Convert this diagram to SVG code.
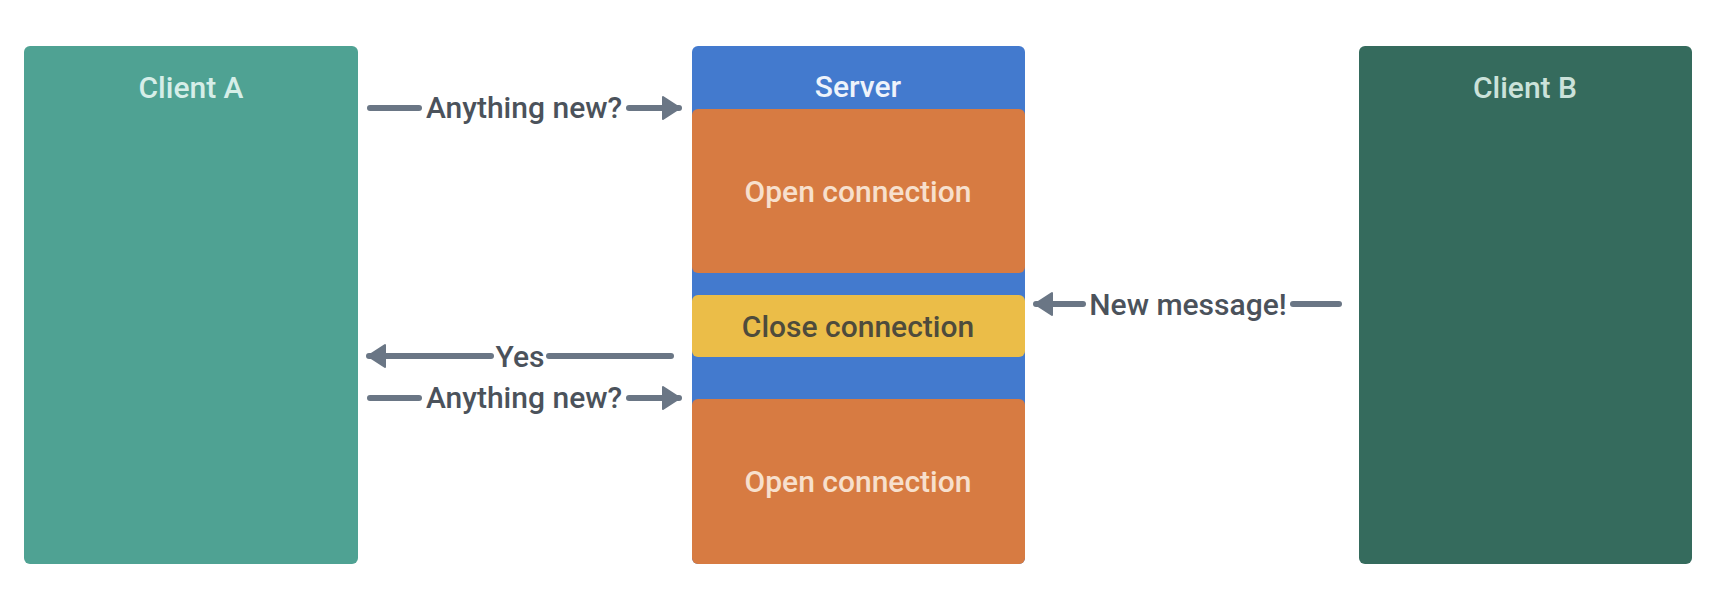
<svg xmlns="http://www.w3.org/2000/svg" width="1714" height="600" viewBox="0 0 1714 600">
  <style>
    text { font-family: Roboto, "Liberation Sans", sans-serif; font-size: 30px; font-weight: 500; text-anchor: middle; }
    .lbl { fill: #4b525b; }
    .edge { stroke: #6a7685; stroke-width: 6; stroke-linecap: round; fill: none; }
  </style>
  <defs>
    <marker id="ah" markerUnits="userSpaceOnUse" markerWidth="22" markerHeight="26" refX="18" refY="13" orient="auto">
      <path d="M2,2 L19,13 L2,24 Z" fill="#6a7685" stroke="#6a7685" stroke-width="2" stroke-linejoin="round"/>
    </marker>
  </defs>
  <rect width="1714" height="600" fill="#ffffff"/>

  <g id="client-a">
    <rect x="24" y="46" width="334" height="518" rx="6" fill="#4fa293"/>
    <text x="191" y="98" fill="#d6eee8">Client A</text>
  </g>

  <g id="server">
    <rect x="692" y="46" width="333" height="518" rx="6" fill="#437ace"/>
    <text x="858" y="97" fill="#eef3fb">Server</text>
  </g>
  <g id="open-connection-1">
    <rect x="692" y="109" width="333" height="164" rx="6" fill="#d77b42"/>
    <text x="858" y="202" fill="#f7e0cd">Open connection</text>
  </g>
  <g id="close-connection">
    <rect x="692" y="295" width="333" height="62" rx="6" fill="#ebbd48"/>
    <text x="858" y="337" fill="#4e4b3c">Close connection</text>
  </g>
  <g id="open-connection-2">
    <rect x="692" y="399" width="333" height="165" rx="6" fill="#d77b42"/>
    <text x="858" y="492" fill="#f7e0cd">Open connection</text>
  </g>

  <g id="client-b">
    <rect x="1359" y="46" width="333" height="518" rx="6" fill="#356b5d"/>
    <text x="1525" y="98" fill="#cbe2da">Client B</text>
  </g>

  <g id="connectors">
    <g id="e1">
      <line class="edge" x1="370" y1="108" x2="419" y2="108"/>
      <line class="edge" x1="629" y1="108" x2="679" y2="108" marker-end="url(#ah)"/>
      <text class="lbl" x="524" y="118">Anything new?</text>
    </g>
    <g id="e2">
      <line class="edge" x1="1339" y1="304" x2="1293" y2="304"/>
      <line class="edge" x1="1083" y1="304" x2="1036" y2="304" marker-end="url(#ah)"/>
      <text class="lbl" x="1188" y="315">New message!</text>
    </g>
    <g id="e3">
      <line class="edge" x1="671" y1="356" x2="549" y2="356"/>
      <line class="edge" x1="491" y1="356" x2="369" y2="356" marker-end="url(#ah)"/>
      <text class="lbl" x="520" y="367">Yes</text>
    </g>
    <g id="e4">
      <line class="edge" x1="370" y1="398" x2="419" y2="398"/>
      <line class="edge" x1="629" y1="398" x2="679" y2="398" marker-end="url(#ah)"/>
      <text class="lbl" x="524" y="408">Anything new?</text>
    </g>
  </g>
</svg>
